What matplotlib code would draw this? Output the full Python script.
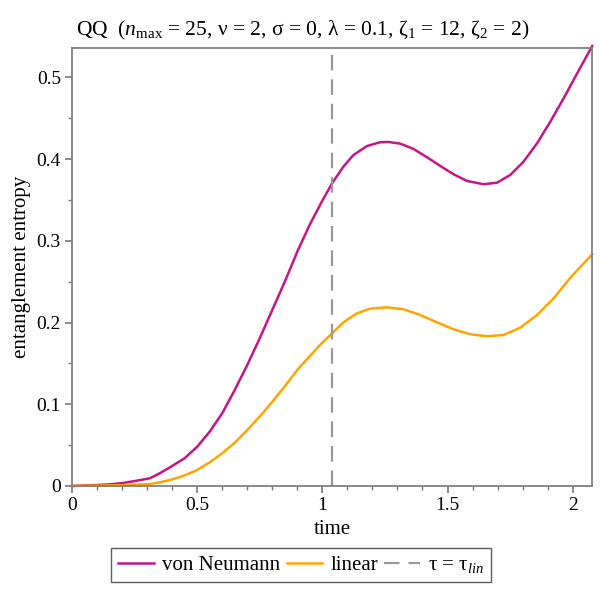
import matplotlib.pyplot as plt
from matplotlib.ticker import MultipleLocator

plt.rcParams['font.family'] = ['Liberation Serif', 'DejaVu Serif']
plt.rcParams['mathtext.fontset'] = 'custom'
plt.rcParams['mathtext.rm'] = 'Liberation Serif'
plt.rcParams['mathtext.it'] = 'Liberation Serif:italic'

# Datos
t_vn = [0.0, 0.1, 0.15, 0.2, 0.25, 0.311, 0.35, 0.4, 0.45, 0.5, 0.55, 0.6, 0.65,
        0.7, 0.75, 0.8, 0.85, 0.9, 0.95, 0.998, 1.039, 1.084, 1.124, 1.178,
        1.231, 1.264, 1.311, 1.364, 1.418, 1.471, 1.524, 1.578, 1.644, 1.698,
        1.751, 1.804, 1.858, 1.911, 1.964, 2.018, 2.078]
s_vn = [0.0, 0.0012, 0.002, 0.0035, 0.006, 0.0094, 0.0155, 0.0245, 0.034, 0.048,
        0.0665, 0.089, 0.1175, 0.148, 0.1808, 0.2154, 0.25, 0.2868, 0.320,
        0.348, 0.3705, 0.3908, 0.405, 0.416, 0.4207, 0.421, 0.419, 0.4125,
        0.4023, 0.3917, 0.3815, 0.3733, 0.3693, 0.3712, 0.3807, 0.397, 0.4195,
        0.446, 0.4745, 0.505, 0.5385]

t_lin = [0.0, 0.1, 0.2, 0.311, 0.35, 0.4, 0.45, 0.5, 0.55, 0.6, 0.65, 0.7, 0.75,
         0.8, 0.85, 0.9, 0.95, 0.991, 1.039, 1.084, 1.138, 1.191, 1.258, 1.324,
         1.391, 1.458, 1.524, 1.591, 1.658, 1.724, 1.791, 1.858, 1.924, 1.991,
         2.078]
s_lin = [0.0, 0.0005, 0.001, 0.0024, 0.0045, 0.008, 0.013, 0.0196, 0.029, 0.040,
         0.053, 0.0685, 0.085, 0.103, 0.122, 0.142, 0.159, 0.1726, 0.1869,
         0.2003, 0.2113, 0.217, 0.2187, 0.2163, 0.2093, 0.2003, 0.1918, 0.1857,
         0.1832, 0.1848, 0.1938, 0.2093, 0.2297, 0.255, 0.2835]

tau_lin = 1.038

fig = plt.figure(figsize=(6, 6), dpi=100)
ax = fig.add_axes([0.12, 0.19, 0.867, 0.73])

ax.plot(t_vn, s_vn, color='#C71585', lw=1.8, label='von Neumann', clip_on=False)
ax.plot(t_lin, s_lin, color='#FFA500', lw=1.8, label='linear', clip_on=False)
ax.axvline(tau_lin, color='#999999', lw=1.6, dashes=(7, 4), label=r'τ = τ$_{lin}$')

ax.set_xlim(0, 2.078)
ax.set_ylim(0, 0.536)
ax.xaxis.set_major_locator(MultipleLocator(0.5))
ax.xaxis.set_minor_locator(MultipleLocator(0.1))
ax.yaxis.set_major_locator(MultipleLocator(0.1))
ax.yaxis.set_minor_locator(MultipleLocator(0.05))
ax.xaxis.set_major_formatter(plt.FuncFormatter(lambda v, p: '%g' % round(v, 2)))
ax.yaxis.set_major_formatter(plt.FuncFormatter(lambda v, p: '%g' % round(v, 2)))
ax.tick_params(which='major', direction='out', length=5, width=1.2, color='#777777',
               labelsize=14, pad=3)
ax.tick_params(which='minor', direction='out', length=3, width=1.0, color='#777777')
for sp in ax.spines.values():
    sp.set_color('#808080')
    sp.set_linewidth(1.3)

ax.set_xlabel('time', fontsize=15, labelpad=4)
ax.set_ylabel('entanglement entropy', fontsize=15)
ax.yaxis.set_label_coords(-0.078, 0.5)
ax.set_title(r'QQ  ($n_{\mathrm{max}}$ = 25, ν = 2, σ = 0, λ = 0.1, ζ$_1$ = 12, ζ$_2$ = 2)',
             fontsize=15.5, pad=9, x=0.443)

leg = fig.legend(loc='center', bbox_to_anchor=(0.502, 0.058), ncol=3, fontsize=15,
                 frameon=True, fancybox=False, edgecolor='#333333', handlelength=1.7,
                 handletextpad=0.4, columnspacing=0.3, borderpad=0.35)
leg.get_frame().set_linewidth(1.0)

plt.savefig('out.png')
